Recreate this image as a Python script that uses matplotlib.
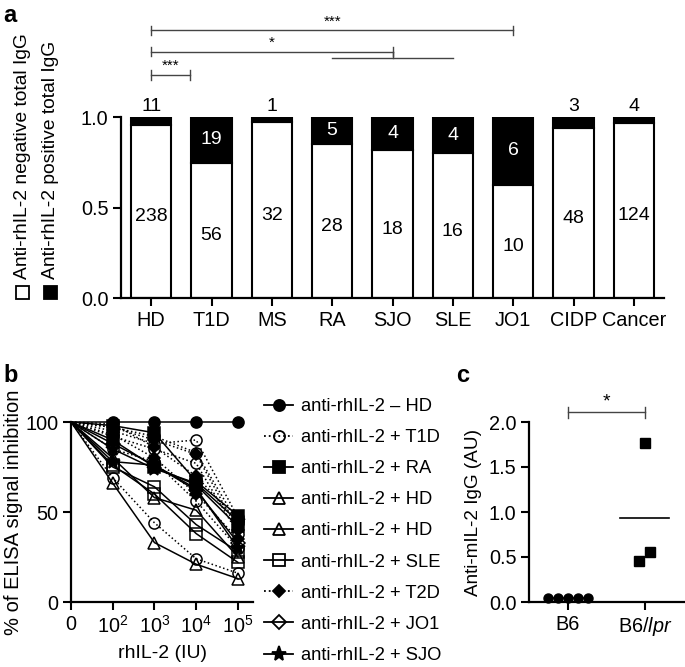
import numpy as np
import matplotlib.pyplot as plt
from matplotlib.lines import Line2D
from matplotlib.patches import Rectangle

plt.rcParams['font.family'] = ['Liberation Sans', 'DejaVu Sans']
plt.rcParams['mathtext.fontset'] = 'custom'
plt.rcParams['mathtext.rm'] = 'Liberation Sans'
plt.rcParams['mathtext.it'] = 'Liberation Sans:italic'
plt.rcParams['axes.linewidth'] = 1.6
plt.rcParams['font.size'] = 14

# ---- panel a data
groups = ['HD', 'T1D', 'MS', 'RA', 'SJO', 'SLE', 'JO1', 'CIDP', 'Cancer']
n_neg = [238, 56, 32, 28, 18, 16, 10, 48, 124]
n_pos = [11, 19, 1, 5, 4, 4, 6, 3, 4]
# significance: (start, end, height, label)
sig_a = [(0, 6, 1.48, '***'), (0, 4, 1.36, '*'), (0, 0.64, 1.232, '***')]

# ---- panel b data (dose 10 is drawn as "0")
doses = [10, 1e2, 1e3, 1e4, 1e5]
dose_labels = ['0', '$10^{2}$', '$10^{3}$', '$10^{4}$', '$10^{5}$']
b_kind = ['ctrl', 'T1D', 'T1D', 'T1D', 'T1D', 'T1D', 'RA', 'RA', 'HD1', 'HD2',
          'SLE', 'SLE', 'T2D', 'T2D', 'T2D', 'JO1', 'SJO', 'SJO']
b_vals = [
    [100, 100, 100, 100, 100],
    [100, 95, 88, 90, 47],
    [100, 92, 85, 77, 38],
    [100, 97, 92, 83, 44],
    [100, 85, 78, 56, 30],
    [100, 69, 44, 24, 16],
    [100, 98, 94, 67, 48],
    [100, 90, 75, 65, 42],
    [100, 66, 33, 21, 13],
    [100, 80, 58, 51, 25],
    [100, 75, 64, 43, 28],
    [100, 76, 60, 38, 22],
    [100, 97, 90, 82, 40],
    [100, 93, 80, 60, 35],
    [100, 99, 86, 70, 45],
    [100, 88, 76, 62, 33],
    [100, 85, 74, 66, 45],
    [100, 78, 76, 63, 30],
]
leg_kinds = ['ctrl', 'T1D', 'RA', 'HD1', 'HD2', 'SLE', 'T2D', 'JO1', 'SJO']
leg_labels = ['anti-rhIL-2 \u2013 HD', 'anti-rhIL-2 + T1D', 'anti-rhIL-2 + RA',
              'anti-rhIL-2 + HD', 'anti-rhIL-2 + HD', 'anti-rhIL-2 + SLE',
              'anti-rhIL-2 + T2D', 'anti-rhIL-2 + JO1', 'anti-rhIL-2 + SJO']
styles = {
    'ctrl': dict(marker='o', mfc='black', ls='-', ms=8),
    'T1D': dict(marker='o', mfc='none', ls=':', ms=8),
    'RA': dict(marker='s', mfc='black', ls='-', ms=8),
    'HD1': dict(marker='^', mfc='none', ls='-', ms=8),
    'HD2': dict(marker='^', mfc='none', ls='-', ms=8),
    'SLE': dict(marker='s', mfc='none', ls='-', ms=8),
    'T2D': dict(marker='D', mfc='black', ls=':', ms=6),
    'JO1': dict(marker='D', mfc='none', ls='-', ms=7),
    'SJO': dict(marker='*', mfc='black', ls='-', ms=11),
}

# ---- panel c data
strains = ['B6', 'B6/$\\mathit{lpr}$']
b6_vals = [0.05, 0.05, 0.05, 0.05, 0.05]
b6_jitter = [-0.26, -0.13, 0, 0.13, 0.26]
lpr_vals = [1.77, 0.46, 0.555]
lpr_jitter = [0.0, -0.08, 0.06]

fig = plt.figure(figsize=(6.85, 6.67), dpi=100)
W, H = 685, 667

def box(l, t, r, b):
    return [l / W, 1 - b / H, (r - l) / W, (b - t) / H]

# ================= a
ax = fig.add_axes(box(121, 117, 664, 298))
x = np.arange(len(groups))
tot = np.array(n_neg) + np.array(n_pos)
fneg = np.array(n_neg) / tot
ax.bar(x, fneg, width=0.67, color='white', edgecolor='black', linewidth=1.5)
ax.bar(x, 1 - fneg, bottom=fneg, width=0.67, color='black', edgecolor='black', linewidth=1.5)
for i in range(len(groups)):
    ax.text(x[i], fneg[i] / 2 - 0.03, str(n_neg[i]), ha='center', va='center', fontsize=14)
    if 1 - fneg[i] < 0.1:
        ax.text(x[i], 1.01, str(n_pos[i]), ha='center', va='bottom', fontsize=14)
    else:
        ax.text(x[i], (1 + fneg[i]) / 2, str(n_pos[i]), ha='center', va='center',
                fontsize=14, color='white')
for s, e, h, lab in sig_a:
    ax.plot([s, e], [h, h], color='#444444', lw=1, clip_on=False)
    for xx in (s, e):
        ax.plot([xx, xx], [h - 0.025, h + 0.025], color='#444444', lw=1, clip_on=False)
    ax.text((s + e) / 2, h + 0.01, lab, ha='center', va='bottom', fontsize=11)
ax.plot([3, 5], [1.326, 1.326], color='#444444', lw=1, clip_on=False)
ax.plot([4, 4], [1.326, 1.36], color='#444444', lw=1, clip_on=False)
ax.set_xlim(-0.5, 8.5)
ax.set_ylim(0, 1.0)
ax.set_yticks([0, 0.5, 1.0])
ax.set_yticklabels(['0.0', '0.5', '1.0'])
ax.set_xticks(x)
ax.set_xticklabels(groups)
ax.spines['top'].set_visible(False)
ax.spines['right'].set_visible(False)
ax.tick_params(direction='out', length=6, width=1.5, labelsize=14.3, pad=3)
fig.text(23 / W, 1 - 279 / H, 'Anti-rhIL-2 negative total IgG', rotation=90,
         ha='center', va='bottom', fontsize=13.9)
fig.text(51 / W, 1 - 279 / H, 'Anti-rhIL-2 positive total IgG', rotation=90,
         ha='center', va='bottom', fontsize=13.9)
fig.patches.append(Rectangle((16 / W, 1 - 299 / H), 13 / W, 13 / H, transform=fig.transFigure,
                             facecolor='white', edgecolor='black', lw=1.3))
fig.patches.append(Rectangle((44 / W, 1 - 299 / H), 13 / W, 13 / H, transform=fig.transFigure,
                             facecolor='black', edgecolor='black', lw=1.3))
fig.text(3 / W, 1 - 15 / H, 'a', fontsize=17, fontweight='bold', ha='left', va='center')

# ================= b
bx = fig.add_axes(box(71, 422, 253, 602))
for kind, vals in zip(b_kind, b_vals):
    st = styles[kind]
    bx.plot(doses, vals, color='black', lw=1.1, ls=st['ls'], marker=st['marker'],
            markevery=[1, 2, 3, 4], ms=st['ms'], mfc=st['mfc'], mec='black', mew=1.1,
            clip_on=False)
bx.set_xscale('log')
bx.set_xlim(10, 2.3e5)
bx.set_ylim(0, 100)
bx.set_xticks(doses)
bx.set_xticklabels(dose_labels)
bx.set_yticks([0, 50, 100])
bx.spines['top'].set_visible(False)
bx.spines['right'].set_visible(False)
bx.tick_params(direction='out', length=6, width=1.5, labelsize=14.3, pad=3)
bx.tick_params(which='minor', direction='out', length=3.5, width=1.2)
bx.set_xlabel('rhIL-2 (IU)', fontsize=14, labelpad=6)
bx.set_ylabel('% of ELISA signal inhibition', fontsize=14.5, labelpad=2)
handles = []
for kind in leg_kinds:
    st = styles[kind]
    handles.append(Line2D([], [], color='black', lw=1.3, ls=st['ls'], marker=st['marker'],
                          ms=st['ms'], mfc=st['mfc'], mec='black', mew=1.3))
bx.legend(handles, leg_labels, loc='upper left', bbox_to_anchor=(264 / W, 1 - 398 / H),
          bbox_transform=fig.transFigure, frameon=False, borderaxespad=0, borderpad=0,
          handlelength=1.6, handletextpad=0.4, labelspacing=0.77, fontsize=13.2)
fig.text(3 / W, 1 - 376 / H, 'b', fontsize=17, fontweight='bold', ha='left', va='center')

# ================= c
cx = fig.add_axes(box(529, 422, 684, 602))
cx.plot(np.array(b6_jitter), b6_vals, 'o', color='black', ms=6.5, clip_on=False)
cx.plot(1 + np.array(lpr_jitter), lpr_vals, 's', color='black', ms=6.5, clip_on=False)
cx.plot([-0.27, 0.27], [np.mean(b6_vals)] * 2, color='black', lw=1.2)
cx.plot([0.67, 1.31], [np.mean(lpr_vals)] * 2, color='black', lw=1.2)
cx.plot([0, 1], [2.11, 2.11], color='#444444', lw=1, clip_on=False)
for xx in (0, 1):
    cx.plot([xx, xx], [2.05, 2.17], color='#444444', lw=1, clip_on=False)
cx.text(0.5, 2.13, '*', ha='center', va='bottom', fontsize=14)
cx.set_xlim(-0.5, 1.5)
cx.set_ylim(0, 2.0)
cx.set_yticks([0, 0.5, 1.0, 1.5, 2.0])
cx.set_yticklabels(['0.0', '0.5', '1.0', '1.5', '2.0'])
cx.set_xticks([0, 1])
cx.set_xticklabels(strains)
cx.spines['top'].set_visible(False)
cx.spines['right'].set_visible(False)
cx.tick_params(direction='out', length=6, width=1.5, labelsize=14.3, pad=3)
cx.set_ylabel('Anti-mIL-2 IgG (AU)', fontsize=13.6, labelpad=5)
fig.text(456 / W, 1 - 376 / H, 'c', fontsize=17, fontweight='bold', ha='left', va='center')

fig.savefig('out.png', dpi=100)
